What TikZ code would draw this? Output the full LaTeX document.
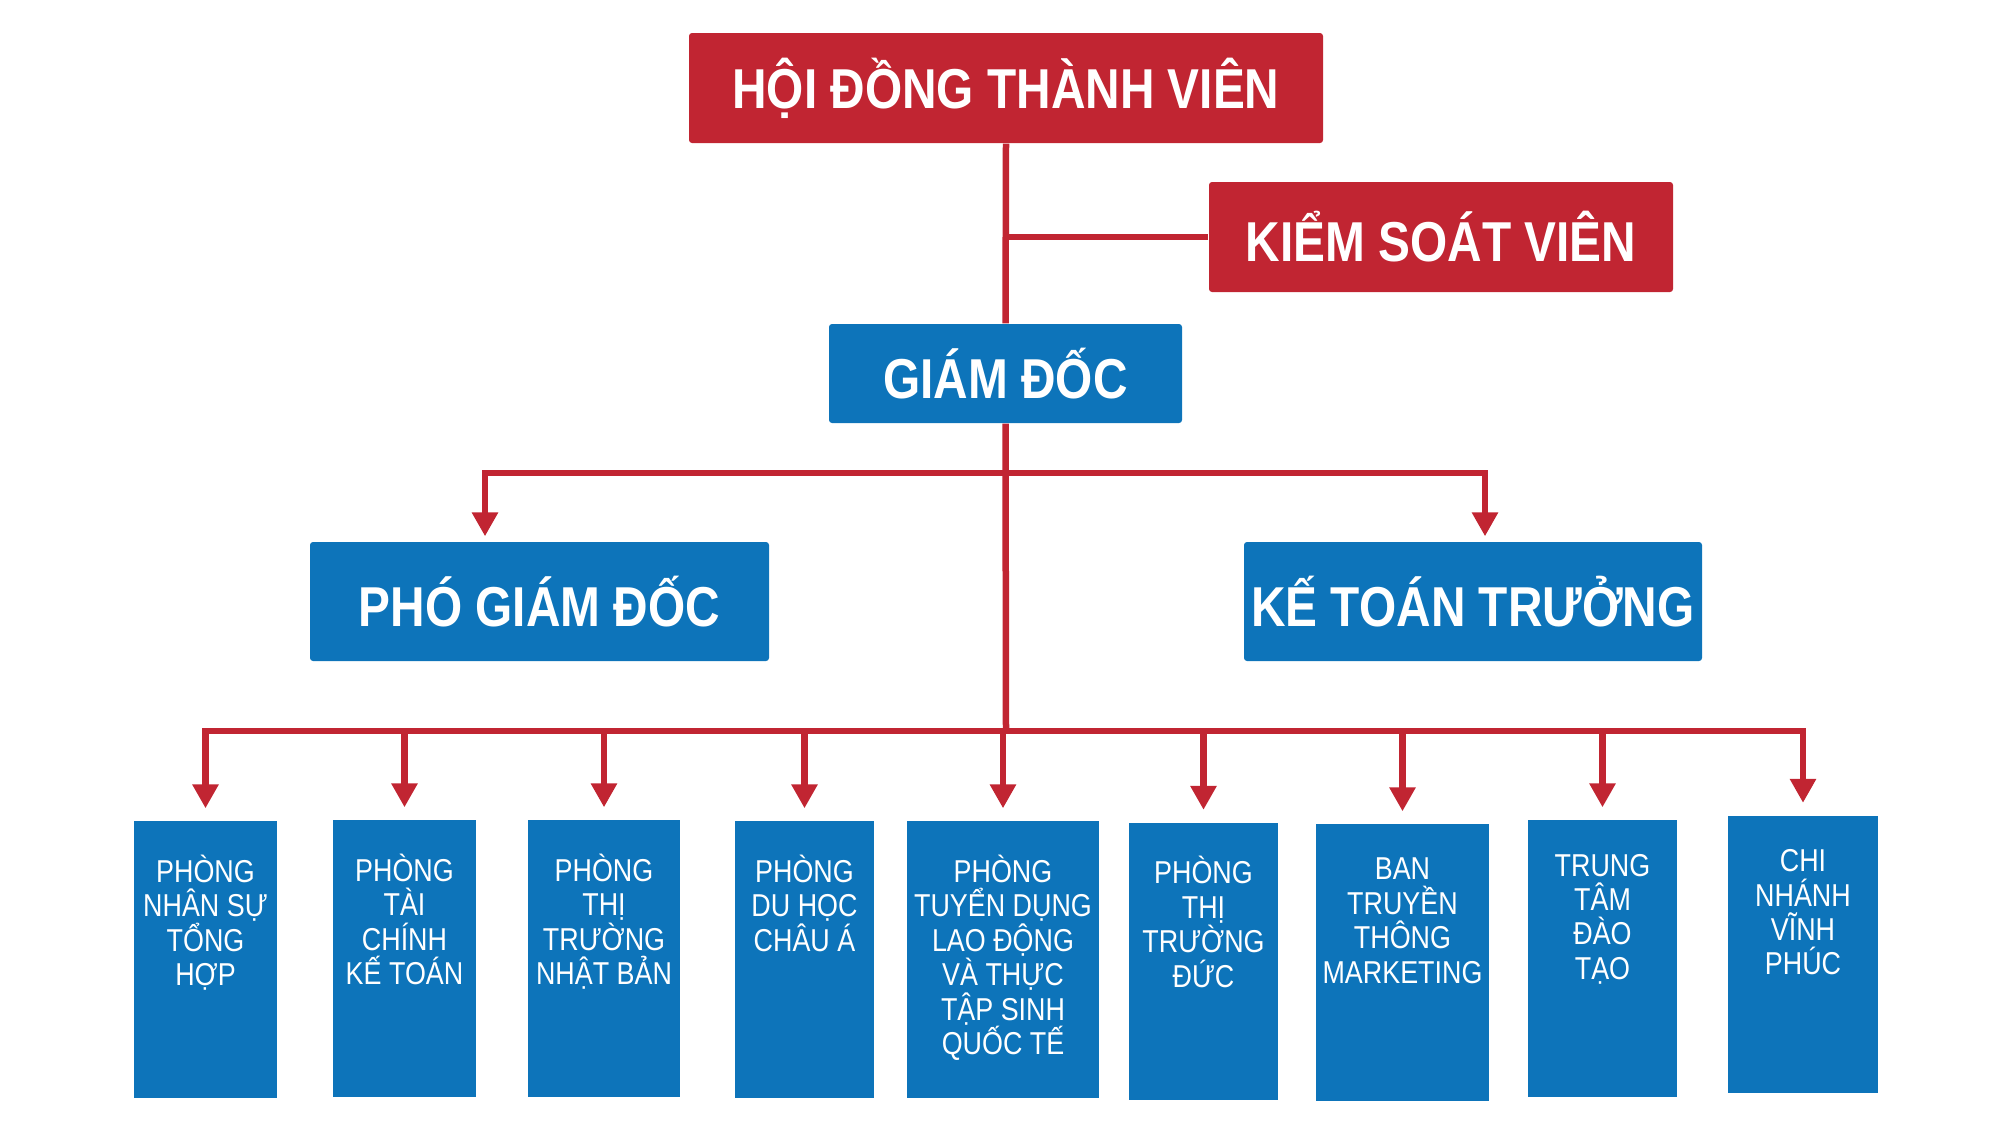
\documentclass[tikz,border=0pt]{standalone}
\usepackage{fontspec}
\setmainfont{Liberation Sans}[FakeStretch=0.85]
\usepackage{tikz}
\usetikzlibrary{positioning, arrows.meta}
\usepackage{xcolor}
\definecolor{hdred}{RGB}{193,37,50}
\definecolor{hdblue}{RGB}{13,116,186}

\begin{document}
\begin{tikzpicture}
	\tikzstyle{headbox}=[
	fill=hdred,
	rectangle,
	rounded corners=0.03cm,
	inner sep=0pt,
	text=white,
	font=\fontsize{16}{18}\selectfont\bfseries
	]
	\tikzstyle{leadbox}=[
	headbox,
	fill=hdblue
	]
	\tikzstyle{deptbox}=[
	fill=hdblue,
	rectangle,
	inner sep=0pt,
	minimum height=2.77cm
	]
	\tikzstyle{depttext}=[
	inner sep=0pt,
	align=center,
	text=white,
	execute at begin node=\vphantom{Ò},
	font=\fontsize{9}{9.8}\selectfont
	]
	\tikzstyle{conn}=[
	draw=hdred,
	line width=0.065cm
	]
	\tikzstyle{arr}=[
	conn,
	-{Triangle[width=0.25cm, length=0.24cm]}
	]
	\useasboundingbox (0,0) rectangle (20,-11.25);
	\node[headbox, minimum width=6.34cm, minimum height=1.1cm] (hdtv) at (10.06,-0.88) {HỘI ĐỒNG THÀNH VIÊN};
	\node[headbox, minimum width=4.64cm, minimum height=1.1cm] (ksv) at (14.41,-2.37) {KIỂM SOÁT VIÊN};
	\node[leadbox, minimum width=3.53cm, minimum height=0.99cm] (gd) at (10.055,-3.735) {GIÁM ĐỐC};
	\node[leadbox, minimum width=4.59cm, minimum height=1.19cm] (pgd) at (5.395,-6.015) {PHÓ GIÁM ĐỐC};
	\node[leadbox, minimum width=4.58cm, minimum height=1.19cm] (ktt) at (14.73,-6.015) {KẾ TOÁN TRƯỞNG};
	\node[deptbox, minimum width=1.43cm] (d1) at (2.055,-9.595) {};
	\node[deptbox, minimum width=1.43cm] (d2) at (4.045,-9.585) {};
	\node[deptbox, minimum width=1.52cm] (d3) at (6.04,-9.585) {};
	\node[deptbox, minimum width=1.39cm] (d4) at (8.045,-9.595) {};
	\node[deptbox, minimum width=1.92cm] (d5) at (10.03,-9.595) {};
	\node[deptbox, minimum width=1.49cm] (d6) at (12.035,-9.61) {};
	\node[deptbox, minimum width=1.73cm] (d7) at (14.025,-9.625) {};
	\node[deptbox, minimum width=1.49cm] (d8) at (16.025,-9.585) {};
	\node[deptbox, minimum width=1.50cm] (d9) at (18.03,-9.54) {};
	\node[depttext, below=0.34cm of d1.north] (t1) {PHÒNG\\NHÂN SỰ\\TỔNG\\HỢP};
	\node[depttext, below=0.34cm of d2.north] (t2) {PHÒNG\\TÀI\\CHÍNH\\KẾ TOÁN};
	\node[depttext, below=0.34cm of d3.north] (t3) {PHÒNG\\THỊ\\TRƯỜNG\\NHẬT BẢN};
	\node[depttext, below=0.34cm of d4.north] (t4) {PHÒNG\\DU HỌC\\CHÂU Á};
	\node[depttext, below=0.34cm of d5.north] (t5) {PHÒNG\\TUYỂN DỤNG\\LAO ĐỘNG\\VÀ THỰC\\TẬP SINH\\QUỐC TẾ};
	\node[depttext, below=0.34cm of d6.north] (t6) {PHÒNG\\THỊ\\TRƯỜNG\\ĐỨC};
	\node[depttext, below=0.34cm of d7.north] (t7) {BAN\\TRUYỀN\\THÔNG\\MARKETING};
	\node[depttext, below=0.34cm of d8.north] (t8) {TRUNG\\TÂM\\ĐÀO\\TẠO};
	\node[depttext, below=0.34cm of d9.north] (t9) {CHI\\NHÁNH\\VĨNH\\PHÚC};
	\coordinate (fork) at (10.06,-4.73);
	\coordinate (bus) at (10.06,-7.31);
	\path[conn] (hdtv.south) -- (gd.north);
	\path[conn] (hdtv.south |- ksv.west) -- (ksv.west);
	\path[conn] (gd.south) -- (bus);
	\path[arr, shorten >=0.05cm] (fork) -| ([xshift=-0.545cm]pgd.north);
	\path[arr, shorten >=0.05cm] (fork) -| ([xshift=0.12cm]ktt.north);
	\foreach \d in {d1,d2,d3,d4,d5,d6,d7,d8,d9}
		\path[arr, shorten >=0.12cm] (bus) -| (\d.north);
\end{tikzpicture}
\end{document}
